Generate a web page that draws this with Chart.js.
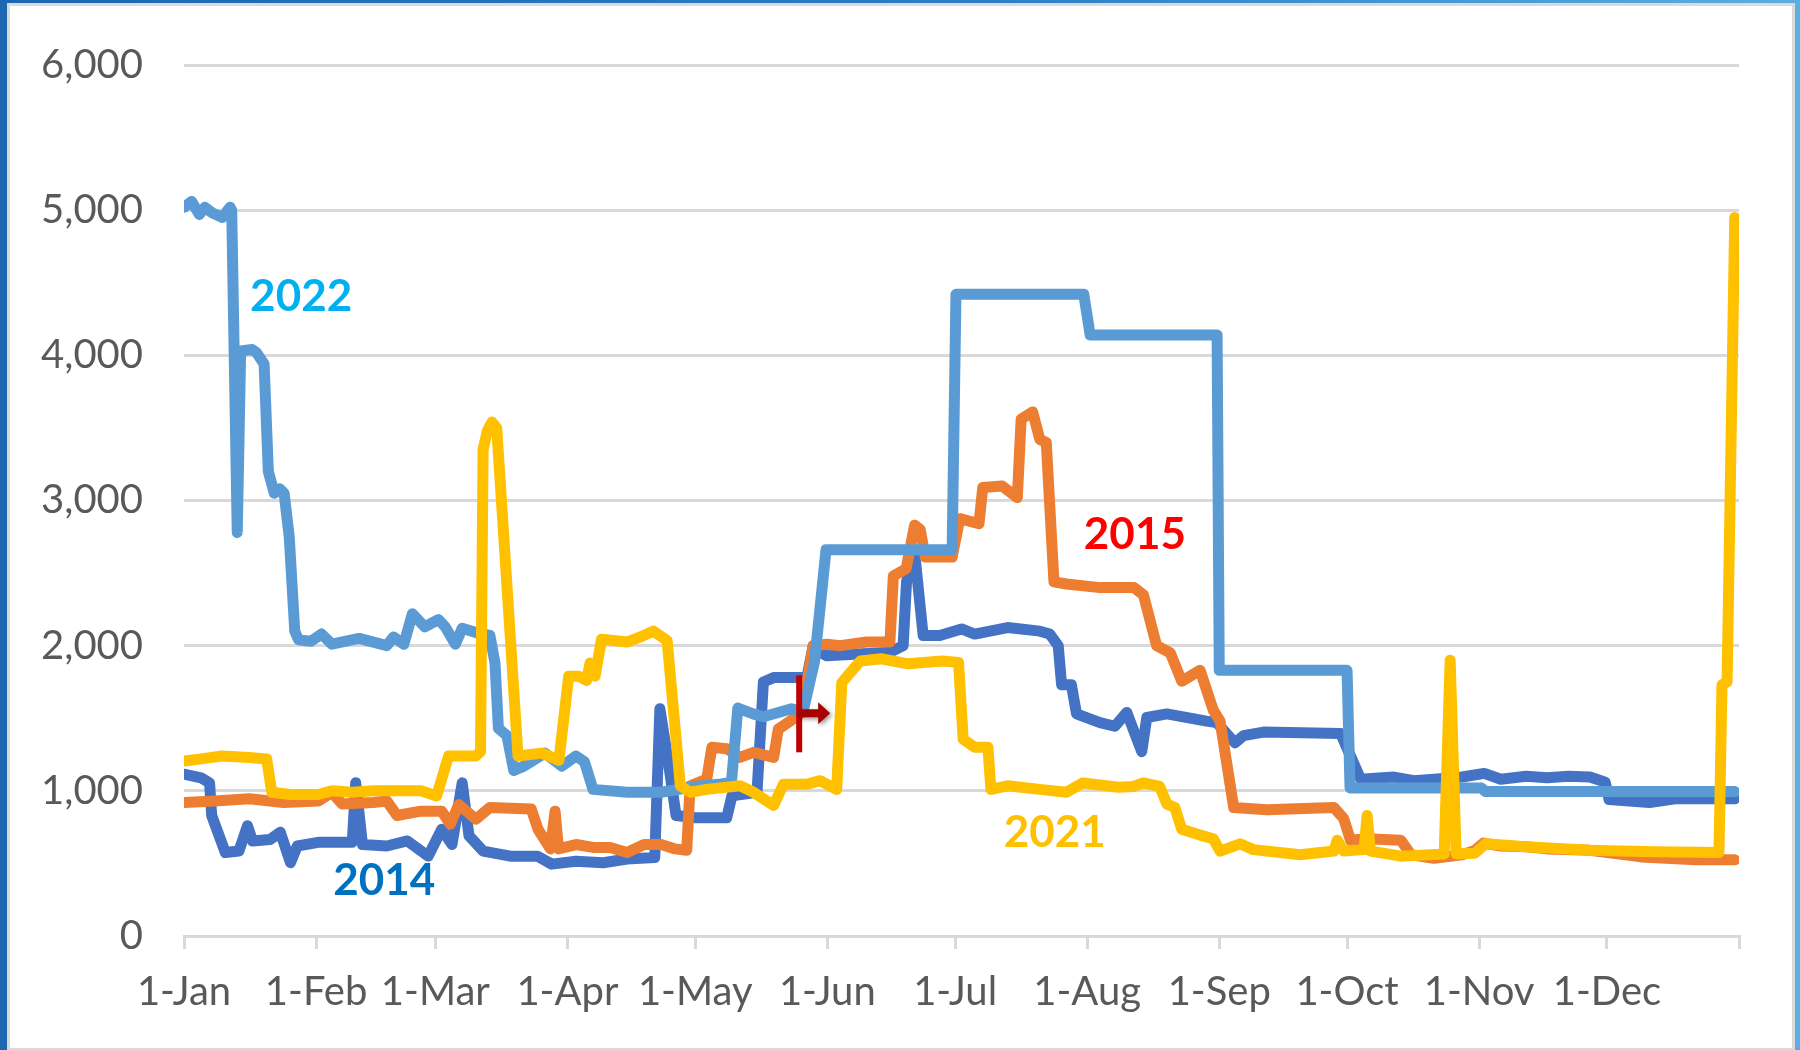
<!DOCTYPE html>
<html lang="en">
<head>
<meta charset="utf-8">
<title>Daily chart by year</title>
<script src="https://cdn.jsdelivr.net/npm/chart.js"></script>
<style>
  html, body { margin: 0; padding: 0; width: 1800px; height: 1050px; overflow: hidden; }
  body { position: relative; background: linear-gradient(90deg, #1c66b2 0%, #2a7fc6 55%, #5aaee0 100%); }
  #panel { position: absolute; left: 7px; top: 3px; width: 1788px; height: 1047px; background: #fff;
           border: 3px solid #dadada; border-bottom-width: 2px; box-sizing: border-box; }
  #wrap { position: absolute; left: 0; top: 0; width: 1800px; height: 1050px; }
</style>
</head>
<body>
<div id="panel"></div>
<div id="wrap"><canvas id="myChart" width="1800" height="1050"></canvas></div>
<script>
// x axis: day of year (0 = 1-Jan)
const monthStarts = [0, 31, 59, 90, 120, 151, 181, 212, 243, 273, 304, 334, 365];
const monthLabels = ['1-Jan', '1-Feb', '1-Mar', '1-Apr', '1-May', '1-Jun', '1-Jul', '1-Aug', '1-Sep', '1-Oct', '1-Nov', '1-Dec', ''];

// 2014
const days2014 = [0, 4, 6, 6.5, 9.7, 12.9, 14.9, 16.1, 20.2, 22.6, 25, 26.6, 31.5, 39.5, 40.3, 41.9, 47.6, 52.4, 57.3, 60.5,
  62.9, 65.3, 66.9, 70.2, 76.6, 83, 86.3, 92, 98.4, 104, 110.5, 111.7, 113.7, 115.5, 120, 127.4, 128.6, 134.5, 136, 138.4,
  146.2, 147.7, 149.3, 150.9, 165.8, 168.8, 169.6, 171.5, 173.5, 177.4, 182.5, 185.6, 193.3, 200.9, 203.2, 205.2, 206, 208.3, 209.5, 215,
  218.5, 221.3, 224.8, 226, 230.7, 240, 242.4, 246.7, 248.7, 253.4, 271.5, 276.2, 284, 288.7, 293.4, 300, 305.2, 309.1, 315, 320,
  325, 330, 333.6, 334.5, 344, 350, 364];
const vals2014 = [1115, 1090, 1055, 830, 575, 585, 760, 655, 665, 715, 505, 620, 645, 645, 1055, 630, 620, 655, 550, 735,
  630, 1055, 690, 585, 550, 550, 495, 515, 505, 530, 540, 1565, 1195, 830, 815, 815, 965, 990, 1750, 1780,
  1780, 2000, 1955, 1930, 1955, 2000, 2440, 2640, 2070, 2070, 2115, 2080, 2125, 2100, 2080, 2000, 1730, 1730, 1530, 1470,
  1445, 1540, 1270, 1505, 1530, 1480, 1470, 1330, 1380, 1405, 1395, 1080, 1095, 1070, 1080, 1095, 1120, 1080, 1100, 1090,
  1100, 1095, 1060, 940, 920, 945, 945];

// 2015
const days2015 = [0, 7.3, 15.3, 23.4, 31.5, 34.7, 37.1, 44.4, 47.6, 50, 55.6, 60.5, 62.5, 64.5, 68.5, 71.8, 81.5, 83.1, 86, 87.1,
  87.9, 92, 96, 100, 104, 108, 112, 115.3, 118, 118.8, 122.7, 123.9, 127.4, 130.5, 133.7, 138.4, 139.5, 143, 145, 147.7,
  150.9, 154, 160.2, 165.7, 166.5, 169.5, 171.5, 172.8, 174, 180.3, 182.1, 186.6, 187.5, 192, 195.6, 196.5, 199.2, 200.9, 202.4, 204.2,
  207.1, 215, 223, 225.2, 228.3, 231.5, 234.2, 238.5, 241.6, 243.2, 246.4, 254.2, 269.9, 272.2, 273.8, 277.7, 285.6, 288, 293.4, 300,
  303, 305, 309, 315, 320, 330, 342, 355, 364];
const vals2015 = [920, 930, 945, 920, 930, 990, 910, 920, 930, 830, 860, 860, 770, 905, 805, 885, 875, 735, 600, 860,
  600, 630, 610, 610, 575, 630, 630, 600, 590, 1035, 1080, 1300, 1290, 1230, 1265, 1230, 1425, 1495, 1540, 2000,
  2010, 2000, 2025, 2025, 2480, 2530, 2830, 2800, 2610, 2610, 2875, 2840, 3090, 3100, 3020, 3560, 3610, 3420, 3400, 2440,
  2425, 2400, 2400, 2350, 2000, 1950, 1755, 1830, 1555, 1480, 885, 870, 885, 810, 660, 670, 660, 560, 535, 560,
  590, 640, 620, 615, 600, 590, 545, 525, 525];

// 2021
const days2021 = [0, 4, 8.9, 15.3, 19.4, 20.6, 25, 31.5, 34.7, 39.5, 44.4, 55.6, 59.3, 62.1, 68.5, 69.6, 70.2, 71.2, 72.3, 73.4,
  78.4, 84, 88, 90.3, 92.6, 94.5, 95.3, 96.5, 98, 104, 107.1, 110.2, 113.4, 116.5, 118.8, 122.7, 130.5, 133.7, 138.4, 140.7,
  146.2, 149.3, 153.2, 154.4, 156.4, 158.8, 163.6, 170, 178, 181.8, 182.9, 185.6, 188.7, 189.4, 193.3, 200.9, 207.1, 211, 219.3, 222.8,
  225.2, 229, 230.7, 232.6, 234.2, 238.5, 241.6, 243.2, 247.9, 251, 262, 269.9, 270.7, 272.2, 277, 277.7, 278.5, 285.6, 295.8, 297.2,
  298.6, 303, 305.5, 315, 330, 345, 360.3, 361, 362.2, 364];
const vals2021 = [1205, 1220, 1240, 1230, 1220, 990, 975, 975, 1000, 990, 1000, 1000, 965, 1240, 1240, 1270, 3350, 3480, 3540, 3500,
  1240, 1260, 1210, 1790, 1790, 1760, 1880, 1790, 2045, 2025, 2060, 2100, 2035, 1035, 990, 1010, 1035, 990, 900, 1045,
  1045, 1070, 1010, 1745, 1815, 1895, 1910, 1875, 1895, 1885, 1355, 1300, 1300, 1010, 1035, 1010, 990, 1055, 1025, 1030,
  1055, 1030, 910, 885, 735, 695, 670, 585, 635, 595, 560, 585, 660, 585, 595, 830, 585, 550, 565, 1900,
  565, 570, 635, 615, 590, 580, 575, 1730, 1750, 4950];

// 2022
const days2022 = [0, 1.8, 3.6, 4.9, 6.7, 9, 10.8, 11.2, 12.5, 13.3, 16, 17, 18.8, 19.8, 21.2, 22.5, 23.5, 24.7, 26, 26.9,
  29.8, 32.3, 34.7, 41.1, 47.6, 49.2, 51.6, 53.6, 56.5, 59.7, 61.3, 63.7, 65.3, 68.5, 71.8, 73, 73.8, 75.8, 77.4, 79.8,
  84.7, 88.7, 92, 94, 96, 104, 112, 116.1, 120.2, 125.6, 128.5, 130, 133.6, 136, 142.6, 145.3, 148, 150.7, 180.3, 181.2,
  211.2, 212.7, 242.5, 243, 273, 273.7, 304.5, 305.5, 364];
const vals2022 = [5020, 5060, 4970, 5020, 4980, 4950, 5020, 5000, 2780, 4030, 4040, 4020, 3940, 3200, 3050, 3080, 3050, 2750, 2100, 2040,
  2030, 2080, 2010, 2050, 2000, 2060, 2010, 2220, 2130, 2180, 2130, 2010, 2120, 2090, 2070, 1880, 1430, 1380, 1140, 1170,
  1260, 1170, 1240, 1200, 1010, 990, 990, 1010, 1030, 1045, 1060, 1570, 1530, 1510, 1565, 1545, 1890, 2660, 2660, 4420,
  4420, 4140, 4140, 1830, 1830, 1020, 1020, 995, 995];

const toPoints = (days, vals) => days.map((d, i) => ({ x: d, y: vals[i] }));

// year labels written on the plot, placed in data units
const yearNotes = [
  { text: '2022', day: 27.5, value: 4400, color: '#00B0F0' },
  { text: '2015', day: 223.2, value: 2767, color: '#FF0000' },
  { text: '2021', day: 204.4, value: 712, color: '#FFC000' },
  { text: '2014', day: 47, value: 377, color: '#0070C0' }
];

const notesPlugin = {
  id: 'notes',
  afterDatasetsDraw(chart) {
    const ctx = chart.ctx;
    const xs = chart.scales.x, ys = chart.scales.y;
    ctx.save();
    ctx.font = 'bold 44px Lato';
    ctx.textAlign = 'center';
    ctx.textBaseline = 'middle';
    yearNotes.forEach(n => {
      ctx.fillStyle = n.color;
      ctx.fillText(n.text, xs.getPixelForValue(n.day), ys.getPixelForValue(n.value));
    });
    // the mouse cursor caught in the screenshot
    const cx = xs.getPixelForValue(144.4), cy = ys.getPixelForValue(1534);
    ctx.fillStyle = '#c00000';
    ctx.fillRect(cx - 3, cy - 38, 6, 77);
    ctx.shadowColor = 'rgba(0,0,0,0.4)';
    ctx.shadowBlur = 4;
    ctx.shadowOffsetX = 2;
    ctx.shadowOffsetY = 2;
    ctx.beginPath();
    ctx.moveTo(cx, cy - 4);
    ctx.lineTo(cx + 19, cy - 4);
    ctx.lineTo(cx + 19, cy - 11);
    ctx.lineTo(cx + 31, cy);
    ctx.lineTo(cx + 19, cy + 11);
    ctx.lineTo(cx + 19, cy + 4);
    ctx.lineTo(cx, cy + 4);
    ctx.closePath();
    ctx.fillStyle = '#a80000';
    ctx.fill();
    ctx.restore();
  }
};

const lineStyle = { borderWidth: 11, pointRadius: 0, tension: 0, borderJoinStyle: 'round', borderCapStyle: 'round', fill: false };

// first dataset is drawn on top
const data = {
  datasets: [
    { label: '2021', data: toPoints(days2021, vals2021), borderColor: '#FFC000', ...lineStyle },
    { label: '2022', data: toPoints(days2022, vals2022), borderColor: '#5B9BD5', ...lineStyle },
    { label: '2015', data: toPoints(days2015, vals2015), borderColor: '#ED7D31', ...lineStyle },
    { label: '2014', data: toPoints(days2014, vals2014), borderColor: '#4472C4', ...lineStyle }
  ]
};

Chart.defaults.font.family = 'Lato';

const config = {
  type: 'line',
  data,
  options: {
    responsive: false,
    animation: false,
    devicePixelRatio: 1,
    layout: { padding: { top: 60, right: 61, left: 0, bottom: 0 } },
    plugins: { legend: { display: false }, tooltip: { enabled: false } },
    scales: {
      x: {
        type: 'linear',
        min: 0,
        max: 365,
        afterBuildTicks: s => { s.ticks = monthStarts.map(v => ({ value: v })); },
        afterFit: s => { s.height = 114; },
        ticks: {
          autoSkip: false, maxRotation: 0, minRotation: 0,
          color: '#595959', font: { size: 40 }, padding: 19,
          callback: (v, i) => monthLabels[i]
        },
        grid: { drawOnChartArea: false, drawTicks: true, tickLength: 13, color: '#d9d9d9', lineWidth: 3 },
        border: { display: true, color: '#d9d9d9', width: 3 }
      },
      y: {
        min: 0,
        max: 6000,
        afterFit: s => { s.width = 184; },
        ticks: {
          stepSize: 1000, color: '#595959', font: { size: 40 }, padding: 41,
          callback: v => v.toLocaleString('en-US')
        },
        grid: { color: '#d9d9d9', lineWidth: 3, drawTicks: false },
        border: { display: false }
      }
    }
  },
  plugins: [notesPlugin]
};

var myChart = new Chart(document.getElementById('myChart'), config);
</script>
</body>
</html>
